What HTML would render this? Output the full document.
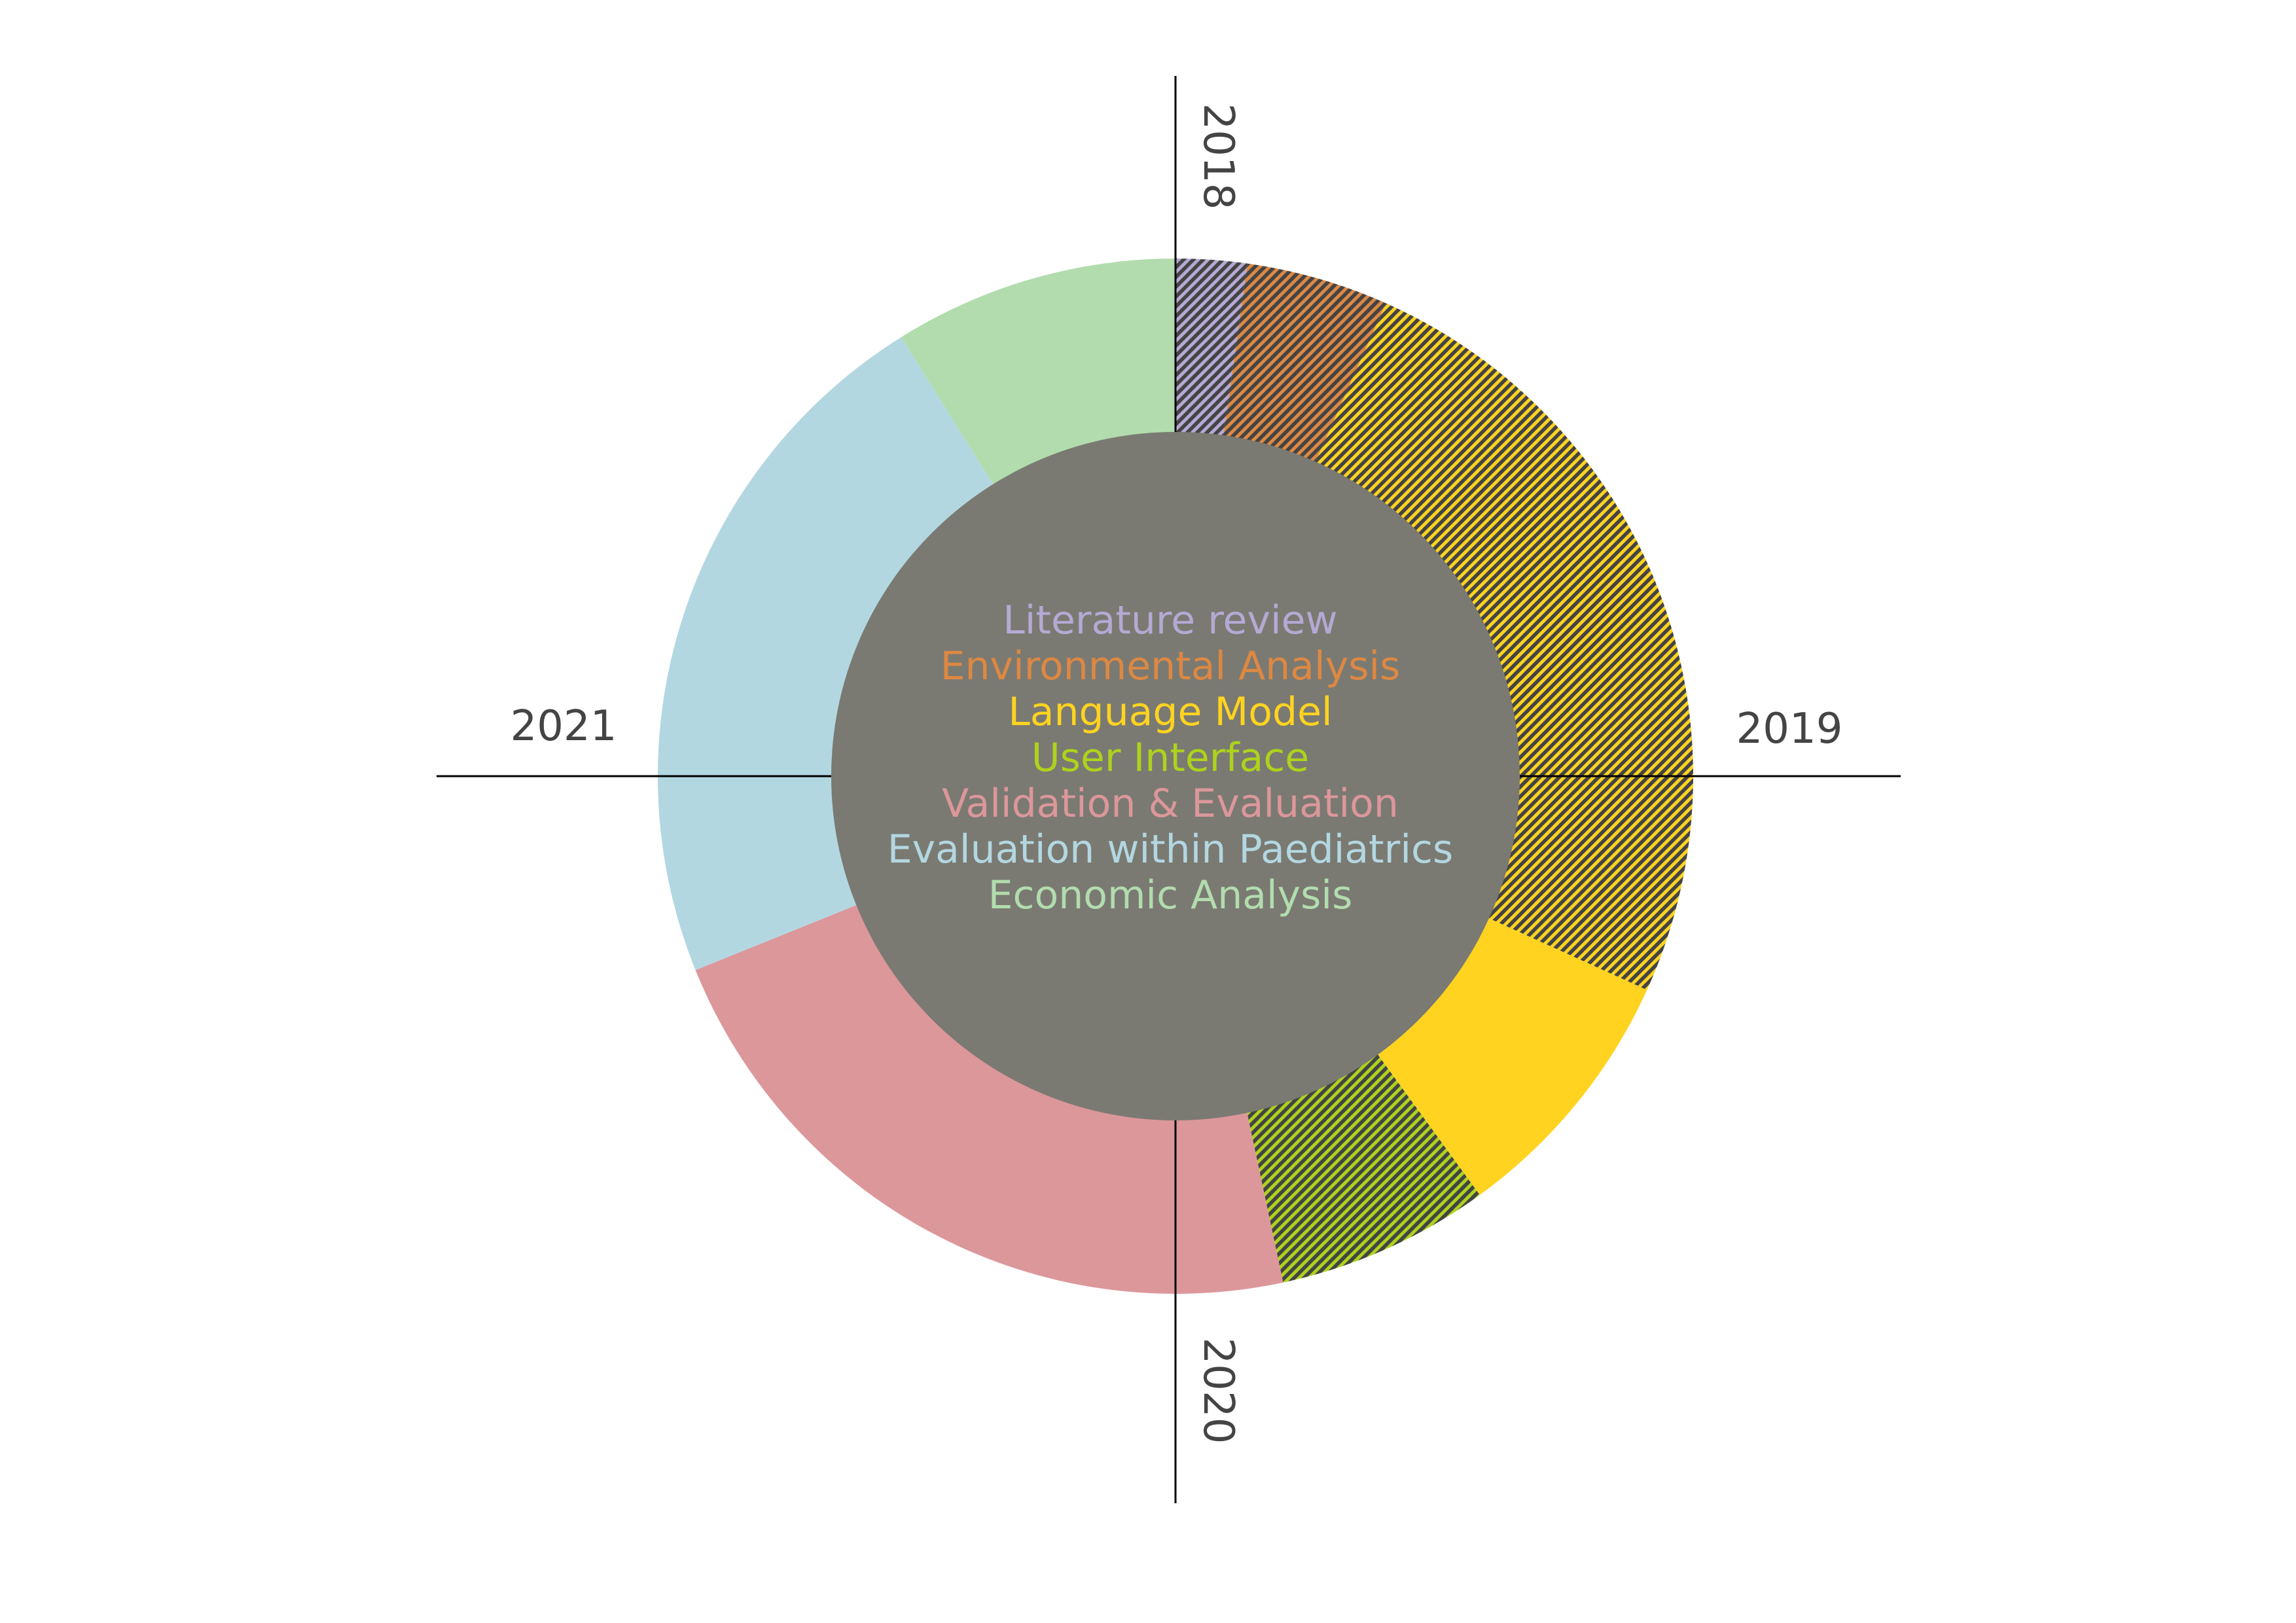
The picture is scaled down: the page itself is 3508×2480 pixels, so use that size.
<!DOCTYPE html>
<html><head><meta charset="utf-8"><style>
html,body{margin:0;padding:0;background:#fff;width:3508px;height:2480px;overflow:hidden}
svg{display:block}
</style></head><body>
<svg id="chart" width="3508" height="2480" viewBox="0 0 3508 2480" xmlns="http://www.w3.org/2000/svg">
<defs id="defs"></defs>
<g id="ring"></g>
<g id="axes"></g>
<circle cx="1796" cy="1186" r="526" fill="#7a7a72"/>
<g id="legend" font-family="DejaVu Sans, Liberation Sans, sans-serif" font-size="60" text-anchor="middle"></g>
<g id="years" font-family="DejaVu Sans, Liberation Sans, sans-serif" font-size="64" fill="#444"></g>
</svg>
<script>
const categories = ["Literature review","Environmental Analysis","Language Model","Language Model","User Interface","Validation & Evaluation","Evaluation within Paediatrics","Economic Analysis"];
const values = [1,2,11.3,3.7,3,10,10,4];
const hatched = [true,true,true,false,true,false,false,false];
const colors = ["#b5a9d4","#dd8843","#ffd320","#ffd320","#aed21c","#dc979b","#b3d7e1","#b2dcae"];
const legendLabels = ["Literature review","Environmental Analysis","Language Model","User Interface","Validation & Evaluation","Evaluation within Paediatrics","Economic Analysis"];
const legendColors = ["#b5a9d4","#dd8843","#ffd320","#aed21c","#dc979b","#b3d7e1","#b2dcae"];
const years = ["2018","2019","2020","2021"];

const NS="http://www.w3.org/2000/svg";
const cx=1796, cy=1186, R=791, r0=526;
const total=values.reduce((a,b)=>a+b,0);
function ang(v){return v/total*2*Math.PI;}
function pt(a,rad){return [cx+rad*Math.sin(a), cy-rad*Math.cos(a)];}
const defs=document.getElementById('defs');
const ring=document.getElementById('ring');
let cum=0;
values.forEach((v,i)=>{
  const a0=ang(cum), a1=ang(cum+v); cum+=v;
  const large=(a1-a0)>Math.PI?1:0;
  const p0=pt(a0,R),p1=pt(a1,R),q1=pt(a1,r0-5),q0=pt(a0,r0-5);
  const d=`M${p0[0]},${p0[1]} A${R},${R} 0 ${large} 1 ${p1[0]},${p1[1]} L${q1[0]},${q1[1]} A${r0-5},${r0-5} 0 ${large} 0 ${q0[0]},${q0[1]} Z`;
  let fill=colors[i];
  if(hatched[i]){
    const pat=document.createElementNS(NS,'pattern');
    pat.setAttribute('id','h'+i);
    pat.setAttribute('patternUnits','userSpaceOnUse');
    pat.setAttribute('width','15');pat.setAttribute('height','15');
    pat.innerHTML=`<rect width="15" height="15" fill="${colors[i]}"/><path d="M-4,4 L4,-4 M0,15 L15,0 M11,19 L19,11" stroke="#444" stroke-width="5.6"/>`;
    defs.appendChild(pat);
    fill='url(#h'+i+')';
  }
  const p=document.createElementNS(NS,'path');
  p.setAttribute('d',d);p.setAttribute('fill',fill);
  
  
  ring.appendChild(p);
});
const axes=document.getElementById('axes');
[[1796,116,1796,2297,'vertical-axis-line'],[667,1186,2904,1186,'horizontal-axis-line']].forEach(l=>{
  const e=document.createElementNS(NS,'line');
  e.setAttribute('x1',l[0]);e.setAttribute('y1',l[1]);e.setAttribute('x2',l[2]);e.setAttribute('y2',l[3]);
  e.setAttribute('stroke','#000');e.setAttribute('stroke-width','3');
  
  
  axes.appendChild(e);
});
const lg=document.getElementById('legend');
legendLabels.forEach((t,i)=>{
  const e=document.createElementNS(NS,'text');
  e.setAttribute('x',1788);e.setAttribute('y',968+i*70);
  e.setAttribute('fill',legendColors[i]);e.textContent=t;
  
  
  lg.appendChild(e);
});
const yp=[[1861,239,90],[2734,1114,0],[1861,2125,90],[861,1110,0]];
const yg=document.getElementById('years');
years.forEach((t,i)=>{
  const e=document.createElementNS(NS,'text');
  e.setAttribute('text-anchor','middle');e.setAttribute('dominant-baseline','central');
  e.setAttribute('transform',`translate(${yp[i][0]},${yp[i][1]}) rotate(${yp[i][2]})`);
  e.textContent=t;
  
  
  yg.appendChild(e);
});
</script>
</body></html>
